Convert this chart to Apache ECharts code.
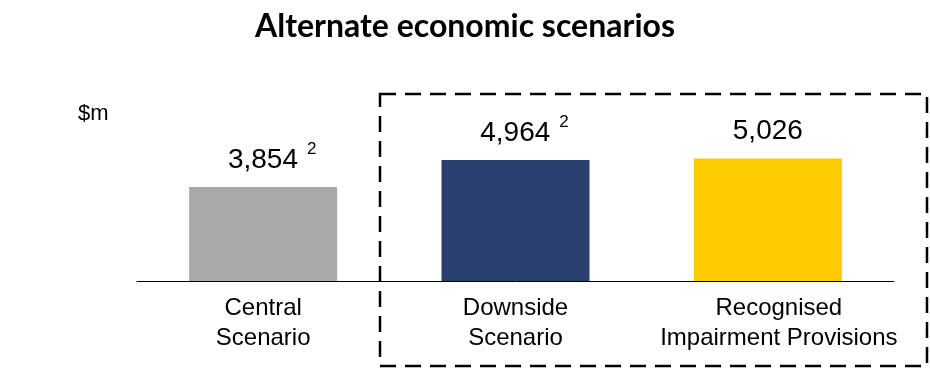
<!DOCTYPE html>
<html>
<head>
<meta charset="utf-8">
<script src="https://cdn.jsdelivr.net/npm/echarts@6/dist/echarts.min.js"></script>
<style>
html,body{margin:0;padding:0;background:#fff;}
#chart{width:930px;height:371px;}
</style>
</head>
<body>
<div id="chart"></div>
<script>
var titleText = 'Alternate economic scenarios';
var unitLabel = '$m';
var categories = ['Central\nScenario', 'Downside\nScenario', 'Recognised\nImpairment Provisions'];
var values = [3854, 4964, 5026];
var valueLabels = ['3,854', '4,964', '5,026'];
var footnotes = ['2', '2', ''];
var barColors = ['#A8A8A8', '#293F6D', '#FECA00'];

var chart = echarts.init(document.getElementById('chart'), null, {renderer: 'canvas'});

var data = values.map(function (v, i) {
  var hasNote = footnotes[i] !== '';
  return {
    value: v,
    itemStyle: {color: barColors[i]},
    label: {
      formatter: hasNote ? '{v|' + valueLabels[i] + '}{s|' + footnotes[i] + '}' : '{v|' + valueLabels[i] + '}',
      offset: hasNote ? [9, 0] : [0, 0]
    }
  };
});

var catTextStyle = {fontFamily: 'Liberation Sans', fontSize: 24, lineHeight: 30, color: '#000'};

chart.setOption({
  animation: false,
  backgroundColor: '#ffffff',
  title: {
    text: titleText,
    left: 'center',
    top: 6,
    textStyle: {fontFamily: 'Lato', fontWeight: 'bold', fontSize: 32, color: '#000'}
  },
  grid: {left: 137, right: 36, top: 86, bottom: 90},
  xAxis: {
    type: 'category',
    data: categories,
    axisLine: {lineStyle: {color: '#000', width: 1}},
    axisTick: {show: false},
    axisLabel: {
      margin: 12,
      color: '#000',
      fontFamily: 'Liberation Sans',
      fontSize: 24,
      lineHeight: 30,
      interval: 0,
      formatter: function (val, idx) {
        var tag = idx === 2 ? 'r' : 'n';
        return val.split('\n').map(function (line) { return '{' + tag + '|' + line + '}'; }).join('\n');
      },
      rich: {
        n: catTextStyle,
        r: Object.assign({}, catTextStyle, {padding: [0, 0, 0, 22]})
      }
    }
  },
  yAxis: {
    type: 'value',
    min: 0,
    max: 8000,
    show: false
  },
  series: [{
    type: 'bar',
    data: data,
    barWidth: 148,
    label: {
      show: true,
      position: 'top',
      distance: 8,
      color: '#000',
      fontFamily: 'Liberation Sans',
      rich: {
        v: {fontSize: 28, lineHeight: 38, fontFamily: 'Liberation Sans', color: '#000'},
        s: {fontSize: 17, lineHeight: 17, verticalAlign: 'top', padding: [0, 0, 0, 9], fontFamily: 'Liberation Sans', color: '#000'}
      }
    }
  }],
  graphic: [
    {
      type: 'text',
      left: 78,
      top: 103,
      style: {text: unitLabel, fontFamily: 'Liberation Sans', fontSize: 22, fill: '#000'}
    },
    {
      type: 'rect',
      shape: {x: 380, y: 94, width: 547, height: 272},
      style: {fill: 'none', stroke: '#000', lineWidth: 2.5, lineDash: [16, 9]},
      z: 10
    }
  ]
});
</script>
</body>
</html>
